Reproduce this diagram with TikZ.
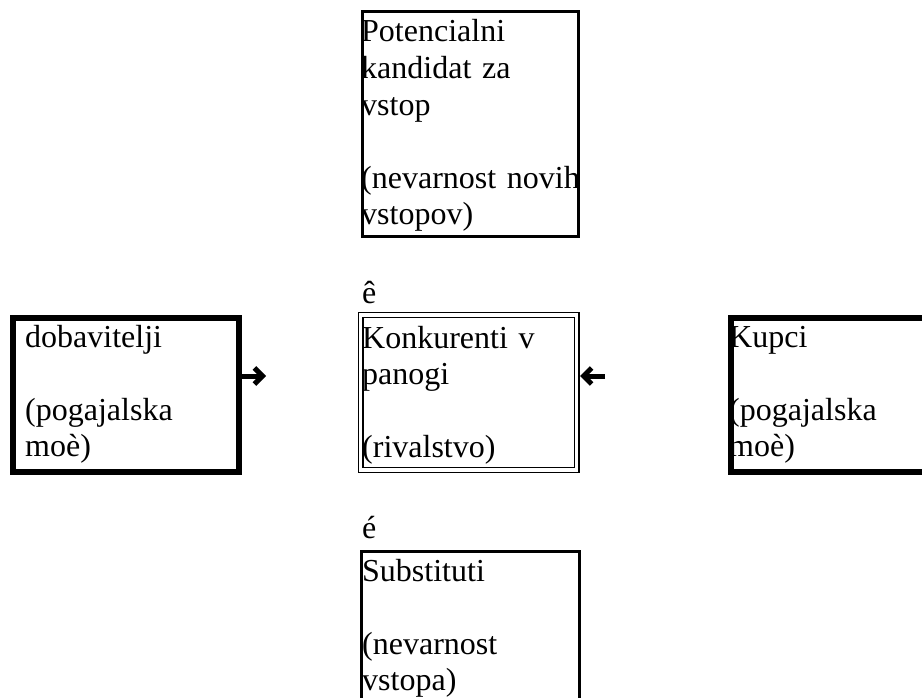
\documentclass[tikz,border=0pt]{standalone}
\usepackage{fontspec}
\setmainfont{Liberation Serif}
\usetikzlibrary{arrows.meta}
\begin{document}
\begin{tikzpicture}[x=1pt,y=-1pt,
  boxthick/.style={draw, line width=3pt, rectangle, inner sep=0pt, anchor=north west},
  boxheavy/.style={draw, line width=6pt, rectangle, inner sep=0pt, anchor=north west},
  boxdouble/.style={draw, double, double distance=3.4pt, line width=1.3pt, rectangle, inner sep=0pt, anchor=north west},
  txt/.style={anchor=base west, inner sep=0pt, text width=240pt,
    font=\fontsize{32}{36.6}\selectfont, execute at begin node=\raggedright},
  bigarrow/.style={line width=5pt, -{Straight Barb[length=8pt,width=16pt,line width=5pt]}}]
\useasboundingbox[fill=white] (0,0) rectangle (922,698);
% boxes
\node[boxthick, minimum width=216pt, minimum height=225pt] (top) at (360.5,10.5) {};
\node[boxheavy, minimum width=226pt, minimum height=154pt] (left) at (10,315) {};
\node[boxdouble, minimum width=216pt, minimum height=155pt] (mid) at (360,314.5) {};
\node[boxheavy, minimum width=220pt, minimum height=154pt] (right) at (728,315) {};
\node[boxthick, minimum width=218pt, minimum height=200pt] (bot) at (359.5,549.5) {};
% texts
\node[txt] (ttop) at (361,42) {Potencialni\\kandidat za\\vstop\\[36.6pt](nevarnost novih\\vstopov)};
\node[txt] (tleft) at (25,347) {dobavitelji\\[36.6pt](pogajalska\\moè)};
\node[txt] (tmid) at (362,348) {Konkurenti v\\panogi\\[36.6pt](rivalstvo)};
\node[txt] (tright) at (729,347) {Kupci\\[36.6pt](pogajalska\\moè)};
\node[txt] (tbot) at (362,581) {Substituti\\[36.6pt](nevarnost\\vstopa)};
\node[txt] (ecirc) at (362,303) {ê};
\node[txt] (eacute) at (362,538) {é};
% arrows
\coordinate (rarrend) at (266,376);
\coordinate (larrstart) at (605,376);
\coordinate (larrend) at (580,376);
\draw[bigarrow] (left.east |- rarrend) -- (rarrend);
\draw[bigarrow] (larrstart) -- (larrend);
\end{tikzpicture}
\end{document}
